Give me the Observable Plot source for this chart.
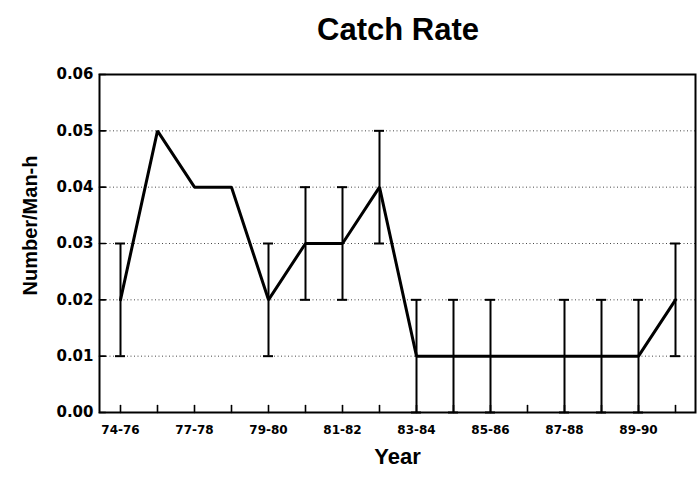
<!DOCTYPE html>
<html><head><meta charset="utf-8">
<script src="https://cdn.jsdelivr.net/npm/d3@7"></script>
<script src="https://cdn.jsdelivr.net/npm/@observablehq/plot@0.6"></script>
<style>
body{margin:0;background:#fff;}
#title{width:700px;height:60px;box-sizing:border-box;padding-top:14px;padding-left:96px;text-align:center;font:bold 31px/31px "Liberation Sans",Arial,sans-serif;color:#000;}
</style></head><body>
<div id="title">Catch Rate</div>
<div id="chart"></div>
<script>
const seasons = ["74-76","76-77","77-78","78-79","79-80","80-81","81-82","82-83","83-84","84-85","85-86","86-87","87-88","88-89","89-90","90-91"];
const rate    = [0.02,0.05,0.04,0.04,0.02,0.03,0.03,0.04,0.01,0.01,0.01,0.01,0.01,0.01,0.01,0.02];
const errLow  = [0.01,null,null,null,0.01,0.02,0.02,0.03,0.00,0.00,0.00,null,0.00,0.00,0.00,0.01];
const errHigh = [0.03,null,null,null,0.03,0.04,0.04,0.05,0.02,0.02,0.02,null,0.02,0.02,0.02,0.03];
const tickLabels = ["74-76","77-78","79-80","81-82","83-84","85-86","87-88","89-90"];
const yTicks = [0,0.01,0.02,0.03,0.04,0.05,0.06];
const gridTicks = [0.01,0.02,0.03,0.04,0.05];

const data = seasons.map((s,i)=>({season:s, rate:rate[i], lo:errLow[i], hi:errHigh[i]}));
const errs = data.filter(d=>d.lo!=null);
const stem = {draw(ctx, l){ ctx.moveTo(0,0); ctx.lineTo(0,-l); }};

const chart = Plot.plot({
  width:700, height:417,
  marginTop:14, marginBottom:65, marginLeft:99, marginRight:5,
  style:{fontFamily:"'DejaVu Sans'", fontWeight:"bold", background:"white", color:"black"},
  x:{type:"point", domain:seasons, padding:0.5},
  y:{domain:[0,0.06]},
  marks:[
    Plot.gridY(gridTicks,{stroke:"#333", strokeOpacity:0.9, strokeWidth:1, strokeDasharray:"1,2.5"}),
    Plot.vector(seasons,{x:d=>d, frameAnchor:"bottom", length:7, rotate:0, anchor:"start", shape:stem, stroke:"black", strokeWidth:1.6}),
    Plot.vector(yTicks,{y:d=>d, frameAnchor:"left", length:6, rotate:90, anchor:"start", shape:stem, stroke:"black", strokeWidth:1.6}),
    Plot.axisX(tickLabels,{tickSize:0, tickPadding:13, fontSize:12, label:null}),
    Plot.axisY(yTicks,{tickSize:0, tickPadding:6, fontSize:15, tickFormat:d3.format(".2f"), label:null}),
    Plot.ruleX(errs,{x:"season", y1:"lo", y2:"hi", stroke:"black", strokeWidth:2}),
    Plot.ruleY(errs,{y:"hi", x1:"season", x2:"season", insetLeft:-5, insetRight:-5, stroke:"black", strokeWidth:2}),
    Plot.ruleY(errs,{y:"lo", x1:"season", x2:"season", insetLeft:-5, insetRight:-5, stroke:"black", strokeWidth:2}),
    Plot.line(data,{x:"season", y:"rate", stroke:"black", strokeWidth:3, strokeLinejoin:"miter"}),
    Plot.frame({stroke:"black", strokeWidth:2}),
    Plot.text(["Year"],{text:d=>d, frameAnchor:"bottom", lineAnchor:"bottom", dy:51, fontSize:22, fontFamily:"'Liberation Sans', Arial, sans-serif", fontWeight:"bold"}),
    Plot.text(["Number/Man-h"],{text:d=>d, frameAnchor:"left", textAnchor:"middle", lineAnchor:"middle", rotate:-90, dx:-69, dy:-18, fontSize:20, fontFamily:"'Liberation Sans', Arial, sans-serif", fontWeight:"bold"})
  ]
});
document.getElementById("chart").appendChild(chart);
</script></body></html>
